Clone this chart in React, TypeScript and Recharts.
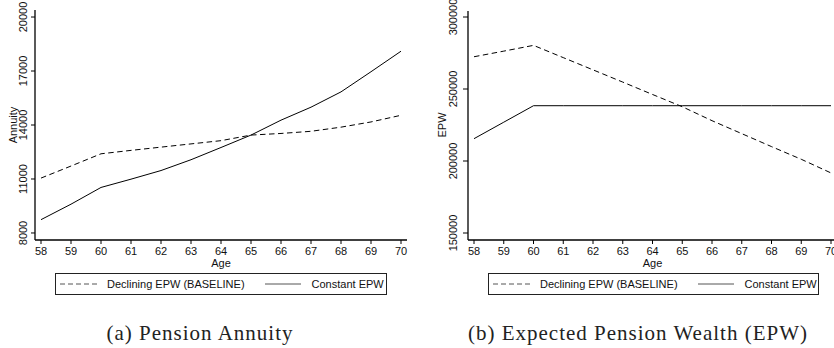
import React from 'react';
import { LineChart, Line, XAxis, YAxis } from 'recharts';

const ages = [58, 59, 60, 61, 62, 63, 64, 65, 66, 67, 68, 69, 70];

// panel (a): pension annuity
const annuityDeclining = [11050, 11720, 12400, 12590, 12770, 12950, 13130, 13440, 13530, 13650, 13880, 14170, 14540];
const annuityConstant = [8740, 9600, 10530, 10990, 11470, 12070, 12750, 13440, 14270, 14990, 15840, 16960, 18100];
const annuityTicks = [8000, 11000, 14000, 17000, 20000];

// panel (b): expected pension wealth
const epwDeclining = [272400, 276300, 280300, 271800, 263300, 254800, 246200, 237700, 228000, 219000, 210000, 201200, 191700];
const epwConstant = [215500, 226950, 238400, 238400, 238400, 238400, 238400, 238400, 238400, 238400, 238400, 238400, 238400];
const epwTicks = [150000, 200000, 250000, 300000];

const seriesNames = ['Declining EPW (BASELINE)', 'Constant EPW'];

const annuityData = ages.map((age, i) => ({ age, declining: annuityDeclining[i], constant: annuityConstant[i] }));
const epwData = ages.map((age, i) => ({ age, declining: epwDeclining[i], constant: epwConstant[i] }));

const SANS = '"Liberation Sans", Arial, sans-serif';
const INK = '#111';

const RotTick = (props: any) => {
  const { x, y, payload } = props;
  return (
    <text x={x} y={y} transform={`rotate(-90 ${x} ${y})`} textAnchor="middle" fontSize={11} fill={INK} fontFamily={SANS}>
      {payload.value}
    </text>
  );
};

function Panel(props: {
  data: any[];
  domain: [number, number];
  ticks: number[];
  yWidth: number;
  tickMargin: number;
  tickSize: number;
  margin: any;
}) {
  const { data, domain, ticks, yWidth, tickMargin, tickSize, margin } = props;
  return (
    <LineChart width={420} height={270} data={data} margin={margin}>
      <XAxis
        dataKey="age"
        type="number"
        domain={[58, 70]}
        ticks={ages}
        interval={0}
        padding={{ left: 6, right: 6 }}
        height={30}
        tickSize={4}
        tickMargin={3}
        axisLine={{ stroke: '#000', strokeWidth: 1.3 }}
        tickLine={{ stroke: '#000' }}
        tick={{ fontSize: 11, fill: INK, fontFamily: SANS }}
        label={{ value: 'Age', position: 'insideBottom', offset: 3, fontSize: 11, fill: INK, fontFamily: SANS }}
      />
      <XAxis
        xAxisId="top"
        orientation="top"
        dataKey="age"
        type="number"
        domain={[58, 70]}
        padding={{ left: 6, right: 6 }}
        height={0}
        tick={false}
        tickLine={false}
        axisLine={{ stroke: '#666' }}
      />
      <YAxis
        type="number"
        domain={domain}
        ticks={ticks}
        interval={0}
        allowDataOverflow
        width={yWidth}
        tickSize={tickSize}
        tickMargin={tickMargin}
        axisLine={{ stroke: '#000', strokeWidth: 1.3 }}
        tickLine={{ stroke: '#000' }}
        tick={<RotTick />}
      />
      <YAxis
        yAxisId="right"
        orientation="right"
        type="number"
        domain={domain}
        allowDataOverflow
        width={0}
        tick={false}
        tickLine={false}
        axisLine={{ stroke: '#666' }}
      />
      <Line
        dataKey="declining"
        name={seriesNames[0]}
        type="linear"
        stroke="#000"
        strokeWidth={1}
        strokeDasharray="5.5 3.5"
        dot={false}
        isAnimationActive={false}
      />
      <Line
        dataKey="constant"
        name={seriesNames[1]}
        type="linear"
        stroke="#000"
        strokeWidth={1}
        dot={false}
        isAnimationActive={false}
      />
    </LineChart>
  );
}

function LegendBox({ left, width }: { left: number; width: number }) {
  return (
    <div
      style={{
        position: 'absolute',
        left,
        top: 273,
        width,
        height: 22,
        boxSizing: 'border-box',
        border: '1px solid #222',
        display: 'flex',
        alignItems: 'center',
        fontFamily: SANS,
        fontSize: 11,
        color: INK,
        whiteSpace: 'nowrap',
      }}
    >
      <svg width={40} height={4} style={{ marginLeft: 4 }}>
        <line x1={0} y1={2} x2={40} y2={2} stroke="#555" strokeWidth={1} strokeDasharray="5 3" />
      </svg>
      <span style={{ marginLeft: 7 }}>{seriesNames[0]}</span>
      <svg width={36} height={4} style={{ marginLeft: 20 }}>
        <line x1={0} y1={2} x2={36} y2={2} stroke="#555" strokeWidth={1} />
      </svg>
      <span style={{ marginLeft: 11 }}>{seriesNames[1]}</span>
    </div>
  );
}

function AxisTitle({ x, y, text }: { x: number; y: number; text: string }) {
  return (
    <div style={{ position: 'absolute', left: x, top: y, width: 0, height: 0 }}>
      <span
        style={{
          position: 'absolute',
          left: 0,
          top: 0,
          transform: 'translate(-50%, -50%) rotate(-90deg)',
          fontFamily: SANS,
          fontSize: 11,
          color: INK,
          whiteSpace: 'nowrap',
        }}
      >
        {text}
      </span>
    </div>
  );
}

function Caption({ cx, text }: { cx: number; text: string }) {
  return (
    <div
      style={{
        position: 'absolute',
        left: cx - 250,
        width: 500,
        top: 322,
        textAlign: 'center',
        fontFamily: '"Liberation Serif", "Times New Roman", serif',
        fontSize: 21,
        letterSpacing: 1,
        color: '#222',
        lineHeight: '22px',
      }}
    >
      {text}
    </div>
  );
}

export default function App() {
  return (
    <div style={{ position: 'absolute', left: 0, top: 0, width: 834, height: 348, overflow: 'hidden', background: '#fff' }}>
      <div style={{ position: 'absolute', left: 0, top: 0 }}>
        <Panel
          data={annuityData}
          domain={[7610, 20390]}
          ticks={annuityTicks}
          yWidth={35}
          tickSize={4}
          tickMargin={4}
          margin={{ top: 10, right: 13, bottom: 0, left: 0 }}
        />
      </div>
      <div style={{ position: 'absolute', left: 420, top: 0 }}>
        <Panel
          data={epwData}
          domain={[145140, 304170]}
          ticks={epwTicks}
          yWidth={48}
          tickSize={5}
          tickMargin={6}
          margin={{ top: 11, right: 3, bottom: 0, left: 0 }}
        />
      </div>
      <AxisTitle x={13} y={125} text="Annuity" />
      <AxisTitle x={442} y={125} text="EPW" />
      <LegendBox left={55} width={332} />
      <LegendBox left={488} width={331} />
      <Caption cx={200} text="(a) Pension Annuity" />
      <Caption cx={638} text="(b) Expected Pension Wealth (EPW)" />
    </div>
  );
}
